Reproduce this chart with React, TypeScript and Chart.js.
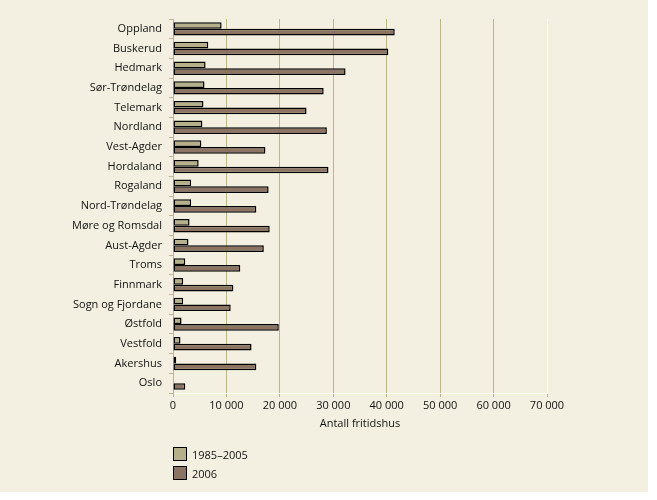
import React, { useEffect, useRef } from "react";
import { Chart, registerables } from "chart.js";

Chart.register(...registerables);

const counties = [
  "Oppland",
  "Buskerud",
  "Hedmark",
  "Sør-Trøndelag",
  "Telemark",
  "Nordland",
  "Vest-Agder",
  "Hordaland",
  "Rogaland",
  "Nord-Trøndelag",
  "Møre og Romsdal",
  "Aust-Agder",
  "Troms",
  "Finnmark",
  "Sogn og Fjordane",
  "Østfold",
  "Vestfold",
  "Akershus",
  "Oslo",
];
const built1985to2005 = [9100, 6600, 6100, 5900, 5700, 5500, 5300, 4800, 3400, 3400, 3100, 2900, 2300, 1900, 1900, 1600, 1400, 600, 0];
const total2006 = [41500, 40300, 32300, 28200, 25000, 28800, 17300, 29100, 17900, 15600, 18100, 17000, 12600, 11300, 10800, 19800, 14700, 15600, 2300];
const seriesLabels = ["1985–2005", "2006"];
const xTickValues = [0, 10000, 20000, 30000, 40000, 50000, 60000, 70000];
const xTitle = "Antall fritidshus";

const BG = "#f4f0e1";
const LIGHT = "#b6b08a";
const DARK = "#8b7464";
const OLIVE = "#bfb587";
const FONT = "'Open Sans', 'Noto Sans', sans-serif";
const TEXT = "#111111";

const panelPlugin = {
  id: "panelBg",
  beforeDraw(chart: any) {
    const { ctx } = chart;
    ctx.save();
    ctx.fillStyle = "#ffffff";
    ctx.fillRect(0, 0, chart.width, chart.height);
    ctx.fillStyle = BG;
    ctx.fillRect(0, 0, 648, 492);
    ctx.restore();
  },
};

function fmt(v: number) {
  return String(v).replace(/\B(?=(\d{3})+(?!\d))/g, " ");
}

export default function App() {
  const ref = useRef<HTMLCanvasElement | null>(null);

  useEffect(() => {
    if (!ref.current) return;
    const common = {
      borderColor: "#000",
      borderWidth: 1.5,
      borderSkipped: false,
      inflateAmount: 0,
      categoryPercentage: 0.68,
      barPercentage: 1,
    };
    const chart = new Chart(ref.current, {
      type: "bar",
      data: {
        labels: counties,
        datasets: [
          { label: seriesLabels[0], data: built1985to2005, backgroundColor: LIGHT, ...common },
          { label: seriesLabels[1], data: total2006, backgroundColor: DARK, ...common },
        ],
      },
      options: {
        indexAxis: "y",
        responsive: false,
        animation: false,
        layout: { padding: { top: 19, right: 110, bottom: 70, left: 0 } },
        plugins: {
          legend: { display: false },
          tooltip: { enabled: false },
        },
        scales: {
          x: {
            min: 0,
            max: 70000,
            afterBuildTicks: (s: any) => {
              s.ticks = xTickValues.map((v) => ({ value: v }));
            },
            afterFit: (s: any) => {
              s.height = 37;
            },
            ticks: {
              callback: (v: any) => fmt(Number(v)),
              font: { family: FONT, size: 11 },
              color: TEXT,
              padding: 2,
              maxRotation: 0,
            },
            grid: {
              color: (c: any) => (c.tick && c.tick.value === 70000 ? "#ffffff" : OLIVE),
              tickColor: OLIVE,
              tickLength: 4,
              lineWidth: 1,
            },
            border: { color: "#ffffff", width: 1 },
            title: {
              display: true,
              text: xTitle,
              font: { family: FONT, size: 11 },
              color: TEXT,
              padding: { top: 4, bottom: 0 },
            },
          },
          y: {
            afterFit: (s: any) => {
              s.width = 173;
            },
            ticks: {
              font: { family: FONT, size: 11 },
              color: TEXT,
              padding: 7,
            },
            grid: {
              offset: true,
              drawOnChartArea: false,
              drawTicks: true,
              tickLength: 4,
              tickColor: OLIVE,
              color: OLIVE,
            },
            border: { color: OLIVE, width: 1 },
          },
        },
      },
      plugins: [panelPlugin],
    } as any);
    return () => chart.destroy();
  }, []);

  const legendColors = [LIGHT, DARK];

  return (
    <div style={{ position: "absolute", left: 0, top: 0, width: 657, height: 500, background: "#fff" }}>
      <canvas ref={ref} width={657} height={500} style={{ display: "block", width: 657, height: 500 }} />
      {seriesLabels.map((l, i) => (
        <div
          key={l}
          style={{
            position: "absolute",
            left: 173,
            top: 447 + i * 19,
            height: 14,
            display: "flex",
            alignItems: "center",
            fontFamily: FONT,
            fontSize: 11,
            color: TEXT,
          }}
        >
          <span
            style={{
              display: "inline-block",
              width: 12,
              height: 12,
              border: "1px solid #000",
              background: legendColors[i],
              marginRight: 5,
            }}
          />
          {l}
        </div>
      ))}
    </div>
  );
}
